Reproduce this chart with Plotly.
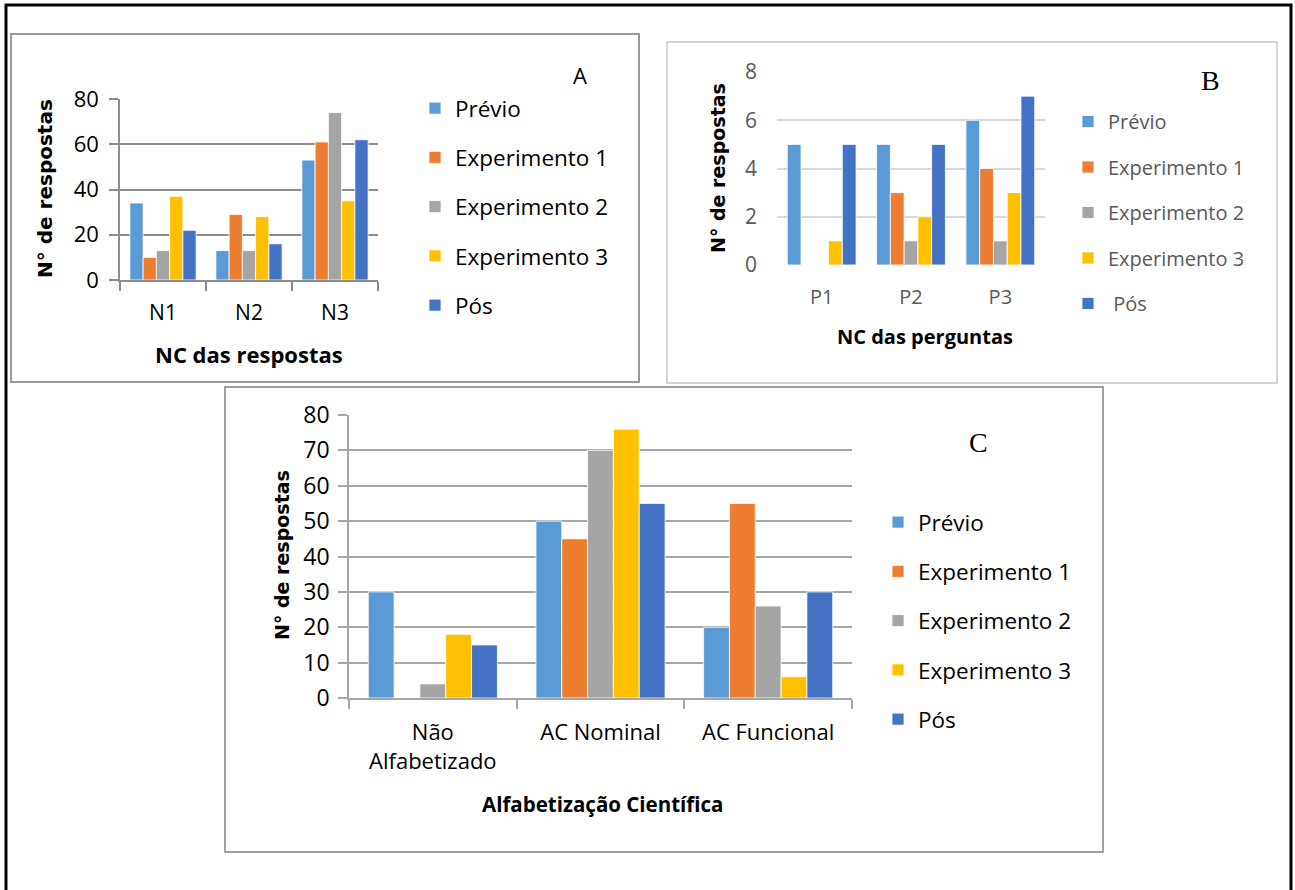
import plotly.graph_objects as go

W, H = 1295, 890

# --- data -------------------------------------------------------------
series_names = ["Prévio", "Experimento 1", "Experimento 2", "Experimento 3", "Pós"]
legend_names_b = ["Prévio", "Experimento 1", "Experimento 2", "Experimento 3", " Pós"]
colors = ["#5B9BD5", "#ED7D31", "#A5A5A5", "#FFC000", "#4472C4"]

cats_a = ["N1", "N2", "N3"]
prev_a = [34, 13, 53]
exp1_a = [10, 29, 61]
exp2_a = [13, 13, 74]
exp3_a = [37, 28, 35]
pos_a = [22, 16, 62]

cats_b = ["P1", "P2", "P3"]
prev_b = [5, 5, 6]
exp1_b = [0, 3, 4]
exp2_b = [0, 1, 1]
exp3_b = [1, 2, 3]
pos_b = [5, 5, 7]

cats_c = ["Não<br>Alfabetizado", "AC Nominal", "AC Funcional"]
prev_c = [30, 50, 20]
exp1_c = [0, 45, 55]
exp2_c = [4, 70, 26]
exp3_c = [18, 76, 6]
pos_c = [15, 55, 30]


def px(x):
    return x / W


def py(y):
    return 1 - y / H


SANS = "'Open Sans', 'Noto Sans', sans-serif"
TITLE_FONT = "'DejaVu Sans', Verdana, sans-serif"
SERIF = "'Liberation Serif', 'Times New Roman', serif"

fig = go.Figure()

panels = [
    ("x", "y", "legend", cats_a, [prev_a, exp1_a, exp2_a, exp3_a, pos_a], series_names),
    ("x2", "y2", "legend2", cats_b, [prev_b, exp1_b, exp2_b, exp3_b, pos_b], legend_names_b),
    ("x3", "y3", "legend3", cats_c, [prev_c, exp1_c, exp2_c, exp3_c, pos_c], series_names),
]

for xa, ya, lg, cats, values, names in panels:
    for name, vals, col in zip(names, values, colors):
        fig.add_trace(go.Bar(
            x=cats, y=vals, name=name, xaxis=xa, yaxis=ya, legend=lg,
            legendgroup=lg + name,
            marker=dict(color=col, line=dict(color="white", width=0.8)),
        ))

# --- axes --------------------------------------------------------------
grid_a = "#8c8c8c"
grid_b = "#d9d9d9"
grid_c = "#a6a6a6"

fig.update_layout(
    width=W, height=H,
    margin=dict(l=0, r=0, t=0, b=0, autoexpand=False),
    paper_bgcolor="white", plot_bgcolor="white",
    barmode="group", bargap=0.23, bargroupgap=0,
    font=dict(family=SANS, color="black"),
    xaxis=dict(domain=[px(120), px(378)], anchor="y", type="category", automargin=False,
               tickson="boundaries", ticks="outside", ticklen=9, tickcolor=grid_a,
               tickwidth=1.5, showline=True, linecolor=grid_a, linewidth=1.5,
               showgrid=False, ticklabelstandoff=13,
               tickfont=dict(size=21, color="black")),
    yaxis=dict(domain=[py(280), py(99)], anchor="x", range=[0, 80], dtick=20, automargin=False,
               ticks="outside", ticklen=9, tickcolor=grid_a, tickwidth=1.5,
               showline=True, linecolor=grid_a, linewidth=1.5,
               gridcolor=grid_a, gridwidth=1.5, zeroline=False, ticklabelstandoff=6,
               tickfont=dict(size=22, color="black")),
    xaxis2=dict(domain=[px(777), px(1045)], anchor="y2", type="category", automargin=False,
                ticks="", showline=False, showgrid=False, ticklabelstandoff=18,
                tickfont=dict(size=20, color="#595959")),
    yaxis2=dict(domain=[py(265), py(72)], anchor="x2", range=[0, 8], dtick=2, automargin=False,
                ticks="", showline=False, gridcolor=grid_b, gridwidth=2,
                zeroline=False, ticklabelstandoff=19,
                tickfont=dict(size=21, color="#595959")),
    xaxis3=dict(domain=[px(349), px(852)], anchor="y3", type="category", automargin=False,
                tickson="boundaries", ticks="outside", ticklen=9, tickcolor=grid_c,
                tickwidth=1.5, showline=True, linecolor=grid_c, linewidth=1.5,
                showgrid=False, ticklabelstandoff=14,
                tickfont=dict(size=22, color="black")),
    yaxis3=dict(domain=[py(698), py(415)], anchor="x3", range=[0, 80], dtick=10, automargin=False,
                ticks="outside", ticklen=9, tickcolor=grid_c, tickwidth=1.5,
                showline=True, linecolor=grid_c, linewidth=1.5,
                gridcolor=grid_c, gridwidth=1.5, zeroline=False, ticklabelstandoff=4,
                tickfont=dict(size=23, color="black")),
    legend=dict(x=px(415), y=py(87), xanchor="left", yanchor="top",
                font=dict(size=22.5, color="black"), tracegroupgap=17,
                bgcolor="rgba(0,0,0,0)"),
    legend2=dict(x=px(1068), y=py(102), xanchor="left", yanchor="top",
                 font=dict(size=20, color="#595959"), tracegroupgap=16.5,
                 bgcolor="rgba(0,0,0,0)"),
    legend3=dict(x=px(878), y=py(501), xanchor="left", yanchor="top",
                 font=dict(size=22.5, color="black"), tracegroupgap=17,
                 bgcolor="rgba(0,0,0,0)"),
)

# --- panel frames and outer border -------------------------------------
shapes = [
    dict(type="rect", xref="paper", yref="paper", x0=px(11), x1=px(639),
         y0=py(382), y1=py(34), line=dict(color="#999999", width=2)),
    dict(type="rect", xref="paper", yref="paper", x0=px(667), x1=px(1277),
         y0=py(383), y1=py(42), line=dict(color="#d4d4d4", width=2)),
    dict(type="rect", xref="paper", yref="paper", x0=px(225), x1=px(1103),
         y0=py(852), y1=py(387), line=dict(color="#a0a0a0", width=2)),
    dict(type="path", xref="paper", yref="paper",
         path=f"M {px(6)},{py(890)} L {px(6)},{py(5)} L {px(1291)},{py(5)} L {px(1291)},{py(890)}",
         line=dict(color="black", width=3)),
]
fig.update_layout(shapes=shapes)

# --- titles and panel letters ------------------------------------------
ann = [
    dict(text="<b>N° de respostas</b>", x=px(45), y=py(189), textangle=-90,
         font=dict(size=20, family=TITLE_FONT, color="black")),
    dict(text="<b>NC das respostas</b>", x=px(249), y=py(354),
         font=dict(size=22, family=SANS, color="black")),
    dict(text="A", x=px(580), y=py(75), font=dict(size=22, family=SANS, color="black")),

    dict(text="<b>N° de respostas</b>", x=px(718), y=py(168), textangle=-90,
         font=dict(size=19, family=TITLE_FONT, color="black")),
    dict(text="<b>NC das perguntas</b>", x=px(925), y=py(336),
         font=dict(size=20, family=SANS, color="black")),
    dict(text="B", x=px(1210), y=py(80), font=dict(size=28, family=SERIF, color="black")),

    dict(text="<b>N° de respostas</b>", x=px(282), y=py(555), textangle=-90,
         font=dict(size=19, family=TITLE_FONT, color="black")),
    dict(text="<b>Alfabetização Científica</b>", x=px(602), y=py(804),
         font=dict(size=20.5, family=SANS, color="black")),
    dict(text="C", x=px(978), y=py(442), font=dict(size=28, family=SERIF, color="black")),
]
for a in ann:
    a.update(xref="paper", yref="paper", showarrow=False, xanchor="center", yanchor="middle")
fig.update_layout(annotations=ann)

fig.write_html("out.html")
